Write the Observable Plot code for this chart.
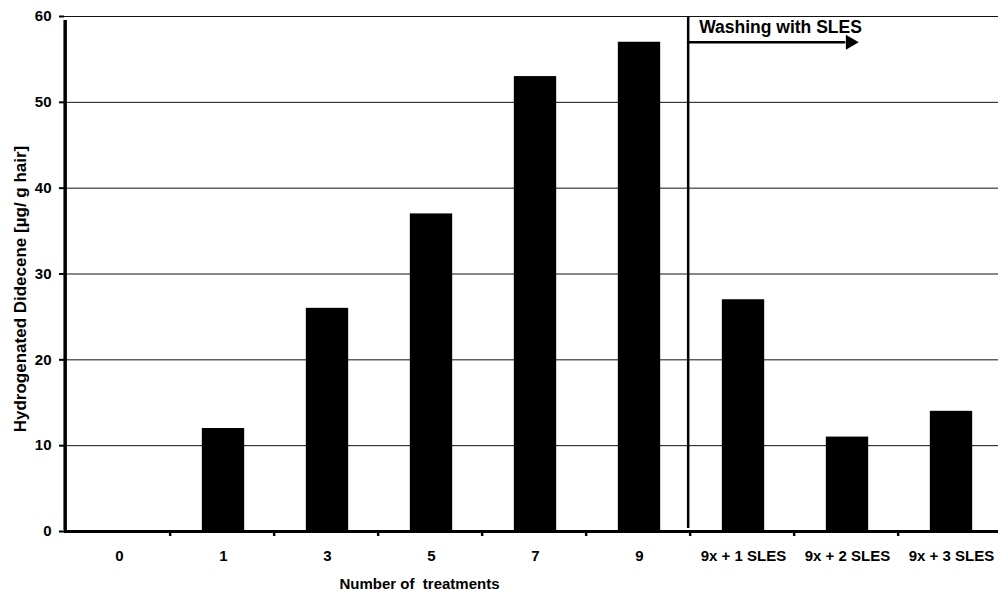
<!DOCTYPE html>
<html>
<head>
<meta charset="utf-8">
<script src="https://cdn.jsdelivr.net/npm/d3@7"></script>
<script src="https://cdn.jsdelivr.net/npm/@observablehq/plot@0.6"></script>
<style>
  html, body { margin: 0; padding: 0; background: white; overflow: hidden; }
  svg { overflow: hidden; }
</style>
</head>
<body>
<div id="chart"></div>
<script>
const categories = ["0", "1", "3", "5", "7", "9", "9x + 1 SLES", "9x + 2 SLES", "9x + 3 SLES"];
const values = [0, 12, 26, 37, 53, 57, 27, 11, 14];
const yTicks = [0, 10, 20, 30, 40, 50, 60];
const yTitle = "Hydrogenated Didecene [µg/ g hair]";
const xTitle = "Number of  treatments";
const annotation = "Washing with SLES";
const washStart = "9x + 1 SLES";
const washEnd = "9x + 3 SLES";

const data = categories.map((c, i) => ({cat: c, value: values[i]}));

const W = 998, H = 594;
const mL = 64, mR = -8, mT = 16, mB = 63;
const half = (W - mR - mL) / categories.length / 2;
const font = "'Liberation Sans', Arial, sans-serif";

const chart = Plot.plot({
  width: W,
  height: H,
  marginLeft: mL,
  marginRight: mR,
  marginTop: mT,
  marginBottom: mB,
  style: {fontFamily: font, fontWeight: "bold", fontSize: "15px", color: "black", background: "white", overflow: "hidden"},
  x: {type: "band", domain: categories, padding: 0},
  y: {domain: [0, 60]},
  marks: [
    // grid lines
    Plot.ruleY(yTicks.slice(1), {stroke: "#111", strokeWidth: 1}),
    // bars
    Plot.barY(data, {x: "cat", y: "value", fill: "black", insetLeft: half - 21.5, insetRight: half - 21.5}),
    // x axis line
    Plot.ruleY([0], {stroke: "black", strokeWidth: 3}),
    // y axis line
    Plot.ruleX([categories[0]], {x: d => d, dx: -half - 2, y1: 0, y2: 60, insetTop: -1, insetBottom: -4, stroke: "black", strokeWidth: 3.5}),
    // boundary ticks on x axis
    Plot.ruleX(categories.slice(1), {x: d => d, dx: -half - 1, y1: 0, y2: 0, insetTop: 5, stroke: "black", strokeWidth: 2.5}),
    // separator line
    Plot.ruleX([washStart], {x: d => d, dx: -half - 3, y1: 0, y2: 60, insetTop: -3, stroke: "black", strokeWidth: 2.5}),
    // arrow shaft
    Plot.arrow([{a: washStart, b: washEnd, v: 57}], {x1: "a", x2: "b", y1: "v", y2: "v", dx: -half - 3, insetEnd: 52, stroke: "black", strokeWidth: 2.5, headLength: 0}),
    // arrow head
    Plot.dot([{b: washEnd, v: 57}], {x: "b", y: "v", dx: -half - 3 - 46, symbol: "triangle", rotate: 90, r: 5.5, fill: "black", stroke: "none"}),
    // annotation text
    Plot.text([annotation], {x: () => washStart, y: () => 58.75, text: d => d, dx: -half + 8, textAnchor: "start", fontSize: 17.5, fontWeight: "bold", fill: "black"}),
    // axes
    Plot.axisY(yTicks, {tickSize: 5, tickPadding: 8, fontSize: 15, fontWeight: "bold", label: null, stroke: "black", strokeWidth: 2}),
    Plot.axisX({tickSize: 0, tickPadding: 19, fontSize: 15, fontWeight: "bold", label: null}),
    // axis titles
    Plot.text([yTitle], {frameAnchor: "left", text: d => d, rotate: -90, textAnchor: "middle", dx: -44, dy: 15, fontSize: 17, fontWeight: "bold", fill: "black"}),
    Plot.text([xTitle], {frameAnchor: "bottom-left", text: d => d, textAnchor: "start", dx: 275, dy: 57, fontSize: 15, fontWeight: "bold", fill: "black"})
  ]
});
document.getElementById("chart").appendChild(chart);
</script>
</body>
</html>
